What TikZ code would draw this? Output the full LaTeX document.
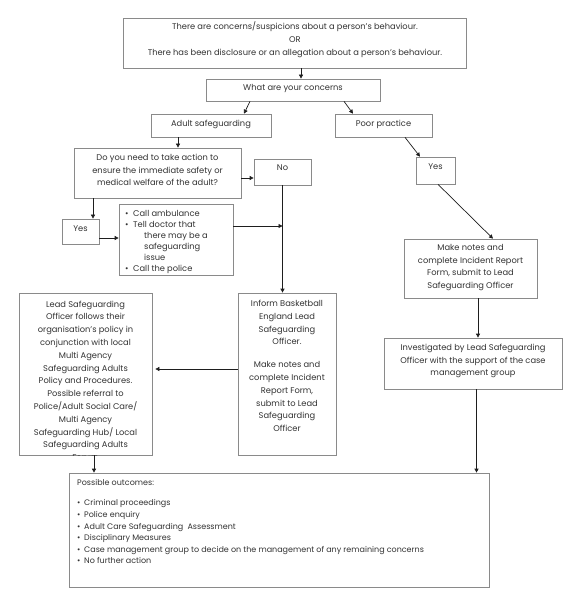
\documentclass[tikz,border=0pt]{standalone}
\usepackage{fontspec}
\setmainfont{Poppins}
\usetikzlibrary{arrows.meta,shadows}
\definecolor{txtc}{HTML}{333333}
\definecolor{linec}{HTML}{1E1E1E}
\definecolor{boxc}{HTML}{8A8A8A}
\tikzset{
 box/.style={draw=boxc, line width=0.7pt, fill=white, rectangle, inner sep=0pt,
   drop shadow={shadow xshift=0.8pt, shadow yshift=-0.8pt, fill=black!40, opacity=1}},
 txt/.style={text=txtc, font=\fontsize{8.3}{12.8}\selectfont, inner sep=0pt, align=center},
 arr/.style={draw=linec, line width=0.7pt, -{Triangle[length=4pt,width=4pt]}},
 ln/.style={draw=linec, line width=0.7pt}
}
\begin{document}
\begin{tikzpicture}[x=1pt,y=-1pt]
\useasboundingbox[fill=white] (0,0) rectangle (576,609);
% boxes
\node[box, minimum width=343pt, minimum height=50pt] (top) at (294.5,43) {};
\node[box, minimum width=174pt, minimum height=22pt] (what) at (293,90) {};
\node[box, minimum width=120pt, minimum height=23pt] (adult) at (211,125.5) {};
\node[box, minimum width=97pt, minimum height=23pt] (poor) at (383.5,125.5) {};
\node[box, minimum width=167pt, minimum height=50pt] (quest) at (157.5,173) {};
\node[box, minimum width=57pt, minimum height=26pt] (no) at (282.5,172) {};
\node[box, minimum width=37pt, minimum height=25pt] (yesl) at (80.5,231.5) {};
\node[box, minimum width=114pt, minimum height=71pt] (bul) at (176,239.5) {};
\node[box, minimum width=39pt, minimum height=27pt] (yesr) at (435.5,170.5) {};
\node[box, minimum width=133pt, minimum height=59pt] (notes) at (470.5,268.5) {};
\node[box, minimum width=98pt, minimum height=162pt] (inform) at (287,374) {};
\node[box, minimum width=133pt, minimum height=162pt] (lead) at (85.5,374) {};
\node[box, minimum width=178pt, minimum height=51pt] (invest) at (473,363.5) {};
\node[box, minimum width=420pt, minimum height=114pt] (out) at (279,530) {};
% texts
\node[txt] (ttop) at (295,40) {There are concerns/suspicions about a person’s behaviour.\\OR\\There has been disclosure or an allegation about a person’s behaviour.};
\node[txt] (twhat) at (293,89) {What are your concerns};
\node[txt] (tadult) at (211,124.5) {Adult safeguarding};
\node[txt] (tpoor) at (383.5,124) {Poor practice};
\node[txt] (tquest) at (157.5,170) {Do you need to take action to\\ensure the immediate safety or\\medical welfare of the adult?};
\node[txt] (tno) at (282.5,168) {No};
\node[txt] (tyesl) at (80.5,229) {Yes};
\node[txt] (tyesr) at (435.5,167) {Yes};
\node[txt] (tnotes) at (470.5,267.5) {Make notes and\\complete Incident Report\\Form, submit to Lead\\Safeguarding Officer};
\node[txt, anchor=north] (tinform) at (287,300) {Inform Basketball\\England Lead\\Safeguarding\\Officer.\\[10pt]Make notes and\\complete Incident\\Report Form,\\submit to Lead\\Safeguarding\\Officer};
\node[txt] (tinvest) at (473,361) {Investigated by Lead Safeguarding\\Officer with the support of the case\\management group};
\begin{scope}
\clip (lead.north west) rectangle (lead.south east);
\node[txt, anchor=north] (tlead) at (85.5,300.5) {Lead Safeguarding\\Officer follows their\\organisation’s policy in\\conjunction with local\\Multi Agency\\Safeguarding Adults\\Policy and Procedures.\\Possible referral to\\Police/Adult Social Care/\\Multi Agency\\Safeguarding Hub/ Local\\Safeguarding Adults\\Forum};
\end{scope}
\begin{scope}
\clip (bul.north west) rectangle (bul.south east);
\node[txt, align=left, anchor=north west, font=\fontsize{8.3}{11}\selectfont] (tbul) at (125,210) {\makebox[8pt][l]{•}Call ambulance\\\makebox[8pt][l]{•}Tell doctor that\\\hspace{19pt}there may be a\\\hspace{19pt}safeguarding\\\hspace{19pt}issue\\\makebox[8pt][l]{•}Call the police};
\end{scope}
\node[txt, align=left, anchor=north west, font=\fontsize{8}{11.6}\selectfont] (tout) at (77,479) {Possible outcomes:\\[9pt]\makebox[7pt][l]{•}Criminal proceedings\\\makebox[7pt][l]{•}Police enquiry\\\makebox[7pt][l]{•}Adult Care Safeguarding\ \ Assessment\\\makebox[7pt][l]{•}Disciplinary Measures\\\makebox[7pt][l]{•}Case management group to decide on the management of any remaining concerns\\\makebox[7pt][l]{•}No further action};
% connectors
\draw[arr] ([xshift=6.5pt]top.south) -- ([xshift=8pt]what.north);
\draw[arr] ([xshift=-43pt]what.south) -- ([xshift=33pt]adult.north);
\draw[arr] ([xshift=51pt]what.south) -- ([xshift=-30.5pt]poor.north);
\draw[arr] ([xshift=-33pt]adult.south) -- ([xshift=-33pt]adult.south |- quest.north);
\draw[arr] ([yshift=-5pt]quest.east) -- ([yshift=-5pt]quest.east -| no.west);
\draw[arr] ([xshift=12.5pt]yesl.north |- quest.south) -- ([xshift=12.5pt]yesl.north);
\draw[arr] ([yshift=-6.5pt]yesl.east) -- ([yshift=-6.5pt]yesl.east -| bul.west);
\draw[arr] ([yshift=13.5pt]bul.east) -- ([yshift=13.5pt]bul.east -| no.south);
\draw[arr] (no.south) -- (no.south |- inform.north);
\draw[arr] ([yshift=5pt]inform.west) -- ([yshift=5pt,xshift=3pt]inform.west -| lead.east);
\draw[arr] ([xshift=8.5pt]lead.south) -- ([xshift=8.5pt]lead.south |- out.north);
\draw[arr] ([xshift=21.5pt]poor.south) -- ([xshift=-15.5pt]yesr.north);
\draw[arr] ([xshift=2.5pt]yesr.south) -- ([xshift=22.5pt]notes.north);
\draw[arr] ([xshift=7.5pt]notes.south) -- ([xshift=7.5pt]notes.south |- invest.north);
\draw[arr] ([xshift=3.5pt]invest.south) -- ([xshift=3.5pt]invest.south |- out.north);
\end{tikzpicture}
\end{document}
